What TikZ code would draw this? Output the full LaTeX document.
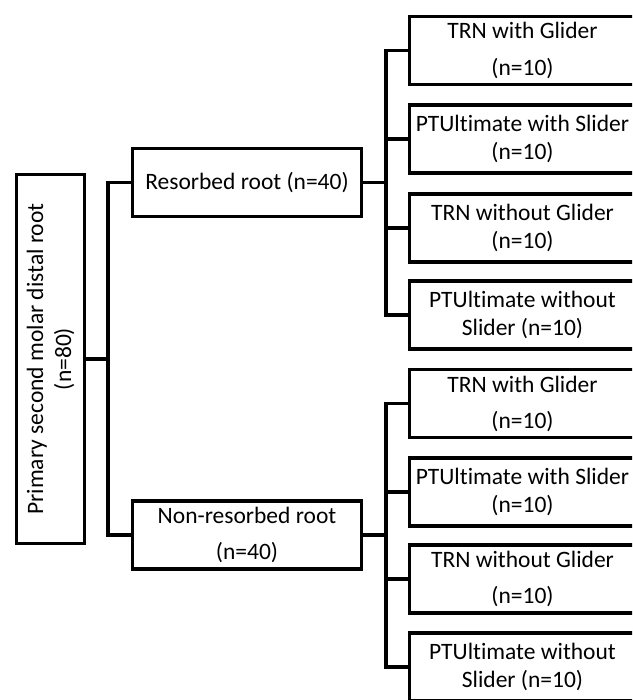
\documentclass[tikz,border=0pt]{standalone}
\usepackage{fontspec}
\setmainfont{Carlito}[Ligatures=NoCommon]
\tikzset{
  box/.style={draw, line width=3.2pt, inner sep=0pt, align=center,
    minimum height=68pt, font=\fontsize{23.5}{28}\selectfont},
  groupbox/.style={box, minimum width=229pt},
  leaf/.style={box, minimum width=226pt},
  link/.style={line width=3.2pt},
}
\begin{document}
\begin{tikzpicture}[x=1pt,y=-1pt]
  \useasboundingbox (0,0) rectangle (632,700);
  \clip (0,0) rectangle (632,700);
  % root, turned on its side
  \node[box, minimum width=369pt, rotate=90] (root) at (50.5,359)
    {Primary second molar distal root\\(n=80)};
  % the two root groups
  \node[groupbox] (res) at (247,182.5) {Resorbed root (n=40)};
  \node[groupbox] (non) at (247,535) {Non-resorbed root\\[8pt](n=40)};
  % resorbed leaves
  \node[leaf] (a1) at (522.5,50.5) {TRN with Glider\\[9pt](n=10)};
  \node[leaf] (a2) at (522.5,139) {PTUltimate with Slider\\(n=10)};
  \node[leaf] (a3) at (522.5,228) {TRN without Glider\\(n=10)};
  \node[leaf] (a4) at (522.5,315) {PTUltimate without\\Slider (n=10)};
  % non-resorbed leaves
  \node[leaf] (b1) at (522.5,403.5) {TRN with Glider\\[8pt](n=10)};
  \node[leaf] (b2) at (522.5,492) {PTUltimate with Slider\\(n=10)};
  \node[leaf] (b3) at (522.5,579) {TRN without Glider\\[8pt](n=10)};
  \node[leaf] (b4) at (522.5,667) {PTUltimate without\\Slider (n=10)};
  % connectors
  \coordinate (j0) at (108,359);
  \coordinate (j1) at (386,182.5);
  \coordinate (j2) at (386,535);
  \draw[link] (root.south) -- (j0);
  \draw[link] (res.west) -| (j0) |- (non.west);
  \draw[link] (res.east) -- (j1);
  \draw[link] (a1.west) -| (j1) |- (a4.west);
  \draw[link] (a2.west) -- (a2.west -| j1);
  \draw[link] (a3.west) -- (a3.west -| j1);
  \draw[link] (non.east) -- (j2);
  \draw[link] (b1.west) -| (j2) |- (b4.west);
  \draw[link] (b2.west) -- (b2.west -| j2);
  \draw[link] (b3.west) -- (b3.west -| j2);
\end{tikzpicture}
\end{document}
